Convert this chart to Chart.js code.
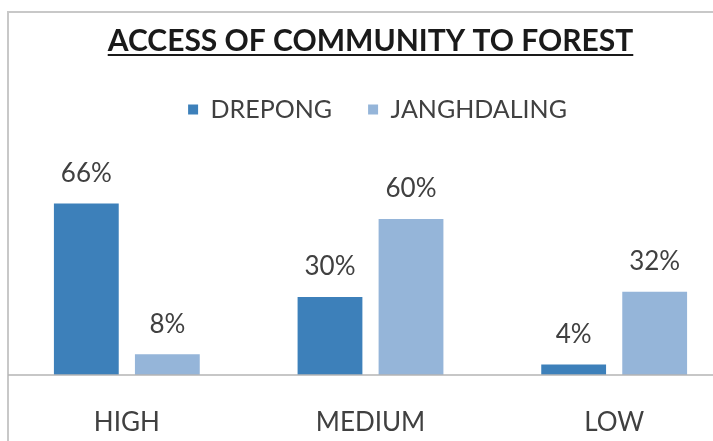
<!DOCTYPE html>
<html>
<head>
<meta charset="utf-8">
<script src="https://cdn.jsdelivr.net/npm/chart.js@4.4.1/dist/chart.umd.min.js"></script>
<style>
  html, body { margin: 0; padding: 0; background: #fff; overflow: hidden; }
  body { width: 713px; height: 441px; position: relative; }
  #wrap { position: absolute; left: 0; top: 0; width: 740px; height: 441px; }
</style>
</head>
<body>
<div id="wrap"><canvas id="c" width="740" height="441"></canvas></div>
<script>
// Access levels and share of households per village (%)
const categories = ['HIGH', 'MEDIUM', 'LOW'];
const drepong = [66, 30, 4];
const janghdaling = [8, 60, 32];
const seriesNames = ['DREPONG', 'JANGHDALING'];

const FONT = 'Lato, "Open Sans", sans-serif';
const TITLE_FONT = 'bold 30px ' + FONT;

// Extra room under the legend before the plot area starts,
// and a small rightward nudge of the legend row
const legendGap = {
  id: 'legendGap',
  afterInit(chart) {
    const lg = chart.legend;
    const origFit = lg.fit;
    lg.fit = function () {
      origFit.call(this);
      this.height += 61;
    };
    const origDraw = lg.draw;
    lg.draw = function () {
      this.ctx.save();
      this.ctx.translate(7, 0);
      origDraw.call(this);
      this.ctx.restore();
    };
  }
};

// Frame lines, baseline, underlined title and value labels
const decor = {
  id: 'decor',
  afterDraw(chart) {
    const ctx = chart.ctx;
    const area = chart.chartArea;
    ctx.save();
    // frame
    ctx.strokeStyle = '#c8c8c8';
    ctx.lineWidth = 2;
    ctx.beginPath();
    ctx.moveTo(8, 441);
    ctx.lineTo(8, 12);
    ctx.lineTo(chart.width, 12);
    ctx.stroke();
    // category axis baseline
    ctx.strokeStyle = '#b4b4b4';
    ctx.lineWidth = 1.5;
    ctx.beginPath();
    ctx.moveTo(8, area.bottom);
    ctx.lineTo(chart.width, area.bottom);
    ctx.stroke();
    // title underline
    const tb = chart.titleBlock;
    if (tb) {
      ctx.font = TITLE_FONT;
      const w = ctx.measureText(chart.options.plugins.title.text).width;
      const cx = (tb.left + tb.right) / 2;
      ctx.strokeStyle = '#1a1a1a';
      ctx.lineWidth = 2;
      ctx.beginPath();
      ctx.moveTo(cx - w / 2, 55);
      ctx.lineTo(cx + w / 2, 55);
      ctx.stroke();
    }
    // value labels
    ctx.font = '26px ' + FONT;
    ctx.fillStyle = '#404040';
    ctx.textAlign = 'center';
    ctx.textBaseline = 'middle';
    chart.data.datasets.forEach((ds, di) => {
      chart.getDatasetMeta(di).data.forEach((bar, i) => {
        ctx.fillText(ds.data[i] + '%', bar.x, bar.y - 30);
      });
    });
    ctx.restore();
  }
};

new Chart(document.getElementById('c'), {
  type: 'bar',
  data: {
    labels: categories,
    datasets: [
      { label: seriesNames[0], data: drepong, backgroundColor: '#3d80ba',
        categoryPercentage: 0.665, barPercentage: 0.8 },
      { label: seriesNames[1], data: janghdaling, backgroundColor: '#95b5d9',
        categoryPercentage: 0.665, barPercentage: 0.8 }
    ]
  },
  options: {
    responsive: false,
    animation: false,
    devicePixelRatio: 1,
    layout: { padding: { left: 5, right: 4, top: 0, bottom: 6 } },
    scales: {
      x: {
        grid: { display: false },
        border: { display: false },
        ticks: { font: { family: FONT, size: 26 }, color: '#404040', padding: 24 },
        afterFit(scale) { scale.height = 60; }
      },
      y: {
        display: false,
        min: 0,
        max: 70
      }
    },
    plugins: {
      title: {
        display: true,
        text: 'ACCESS OF COMMUNITY TO FOREST',
        color: '#1a1a1a',
        font: { family: FONT, size: 30, weight: 'bold' },
        padding: { top: 23, bottom: 2 }
      },
      legend: {
        display: true,
        labels: {
          font: { family: FONT, size: 25 },
          color: '#404040',
          boxWidth: 10,
          boxHeight: 10,
          padding: 36
        }
      },
      tooltip: { enabled: false }
    }
  },
  plugins: [legendGap, decor]
});
</script>
</body>
</html>
